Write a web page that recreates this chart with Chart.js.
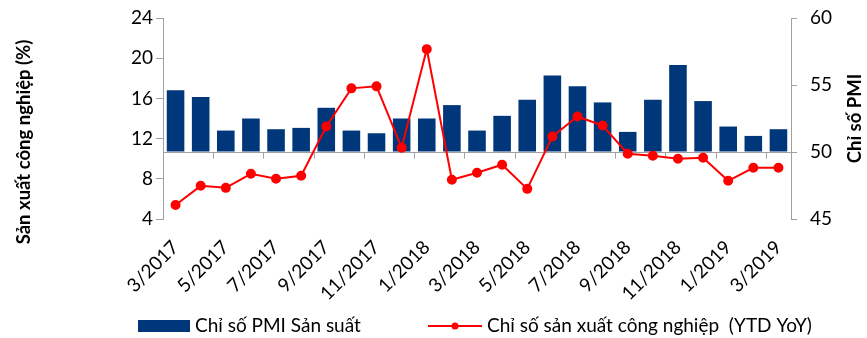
<!DOCTYPE html>
<html>
<head>
<meta charset="utf-8">
<script src="https://cdn.jsdelivr.net/npm/chart.js@4"></script>
<style>
  html, body { margin: 0; padding: 0; background: #fff; }
  #wrap { width: 867px; height: 338px; position: relative; }
</style>
</head>
<body>
<div id="wrap"><canvas id="c" width="867" height="338"></canvas></div>
<script>
// Months shown on the category axis
const months = ['3/2017','4/2017','5/2017','6/2017','7/2017','8/2017','9/2017','10/2017','11/2017','12/2017',
  '1/2018','2/2018','3/2018','4/2018','5/2018','6/2018','7/2018','8/2018','9/2018','10/2018','11/2018','12/2018',
  '1/2019','2/2019','3/2019'];

// Manufacturing PMI (right axis, bars rise from the 50 threshold)
const pmi = [54.6,54.1,51.6,52.5,51.7,51.8,53.3,51.6,51.4,52.5,52.5,53.5,51.6,52.7,53.9,55.7,54.9,53.7,51.5,53.9,56.5,53.8,51.9,51.2,51.7];

// Industrial production index, YTD YoY % (left axis)
const iip = [5.4,7.3,7.1,8.5,8.0,8.3,13.2,17.0,17.2,11.1,20.9,7.9,8.6,9.4,7.0,12.2,14.2,13.3,10.5,10.3,10.0,10.1,7.8,9.1,9.1];

const leftTicks = [4, 8, 12, 16, 20, 24];
const rightTicks = [45, 50, 55, 60];
const pmiBase = 50;

const seriesNames = ['Chỉ số PMI Sản suất', 'Chỉ số sản xuất công nghiệp  (YTD YoY)'];
const leftTitle = 'Sản xuất công nghiệp (%)';
const rightTitle = 'Chỉ số PMI';

const NAVY = '#00377A';
const RED = '#FF0000';
const AXIS = '#A0A0A0';
const FONT = 'Lato';
const FS = 19;

// Horizontal axis line at PMI = 50 with tick marks every two months
const baseAxis = {
  id: 'baseAxis',
  beforeDatasetsDraw(chart) {
    const {ctx, chartArea, scales} = chart;
    const y = Math.round(scales.y1.getPixelForValue(pmiBase)) + 0.5;
    ctx.save();
    ctx.strokeStyle = AXIS;
    ctx.lineWidth = 1;
    ctx.beginPath();
    ctx.moveTo(chartArea.left, y);
    ctx.lineTo(chartArea.right, y);
    const n = months.length;
    const step = (scales.x.getPixelForValue(1) - scales.x.getPixelForValue(0));
    for (let i = 2; i <= n; i += 2) {
      const bx = Math.round(scales.x.getPixelForValue(i) - step / 2) + 0.5;
      ctx.moveTo(bx, y);
      ctx.lineTo(bx, y + 6);
    }
    ctx.stroke();
    ctx.restore();
  }
};

// Axis titles and legend along the bottom
const decorations = {
  id: 'decorations',
  afterDraw(chart) {
    const {ctx, chartArea} = chart;
    ctx.save();
    ctx.fillStyle = '#000';
    ctx.font = 'bold 18.5px ' + FONT;
    ctx.textAlign = 'center';
    ctx.textBaseline = 'middle';
    ctx.translate(24, 142);
    ctx.rotate(-Math.PI / 2);
    ctx.fillText(leftTitle, 0, 0);
    ctx.restore();

    ctx.save();
    ctx.fillStyle = '#000';
    ctx.font = 'bold 18.5px ' + FONT;
    ctx.textAlign = 'center';
    ctx.textBaseline = 'middle';
    ctx.translate(855, (chartArea.top + chartArea.bottom) / 2);
    ctx.rotate(-Math.PI / 2);
    ctx.fillText(rightTitle, 0, 0);
    ctx.restore();

    // legend
    ctx.save();
    const ly = 326;
    ctx.fillStyle = NAVY;
    ctx.fillRect(138, 320, 52, 12);
    ctx.fillStyle = '#000';
    ctx.font = FS + 'px ' + FONT;
    ctx.textAlign = 'left';
    ctx.textBaseline = 'middle';
    ctx.fillText(seriesNames[0], 195, ly);

    ctx.strokeStyle = RED;
    ctx.lineWidth = 2;
    ctx.beginPath();
    ctx.moveTo(428, ly);
    ctx.lineTo(482, ly);
    ctx.stroke();
    ctx.fillStyle = RED;
    ctx.beginPath();
    ctx.arc(455, ly, 3.5, 0, Math.PI * 2);
    ctx.fill();
    ctx.fillStyle = '#000';
    ctx.fillText(seriesNames[1], 487, ly);
    ctx.restore();
  }
};

function fitVertical(width) {
  return function (scale) {
    scale.width = width;
    scale.paddingTop = 0;
    scale.paddingBottom = 0;
  };
}

Chart.defaults.font.family = FONT;
Chart.defaults.font.size = FS;
Chart.defaults.color = '#000';

new Chart(document.getElementById('c'), {
  data: {
    labels: months,
    datasets: [
      {
        type: 'line',
        label: seriesNames[1],
        data: iip,
        yAxisID: 'y',
        borderColor: RED,
        backgroundColor: RED,
        borderWidth: 2,
        pointRadius: 4,
        pointBackgroundColor: RED,
        pointBorderColor: RED,
        tension: 0,
        order: 0
      },
      {
        type: 'bar',
        label: seriesNames[0],
        data: pmi,
        yAxisID: 'y1',
        base: pmiBase,
        backgroundColor: NAVY,
        categoryPercentage: 1,
        barPercentage: 0.7,
        order: 1
      }
    ]
  },
  options: {
    responsive: false,
    animation: false,
    events: [],
    layout: { padding: { top: 18, left: 0, right: 0, bottom: 0 } },
    plugins: { legend: { display: false }, tooltip: { enabled: false } },
    scales: {
      x: {
        grid: { display: false, drawTicks: false },
        border: { display: false },
        ticks: {
          autoSkip: false,
          maxRotation: 45,
          minRotation: 45,
          padding: 17,
          callback: function (v, i) { return i % 2 === 0 ? months[i] : ''; }
        },
        afterFit(scale) { scale.height = 119; scale.paddingLeft = 0; scale.paddingRight = 0; }
      },
      y: {
        position: 'left',
        min: 4, max: 24,
        afterBuildTicks(scale) { scale.ticks = leftTicks.map(v => ({ value: v })); },
        grid: { drawOnChartArea: false, drawTicks: true, tickLength: 7, color: AXIS },
        border: { display: true, color: AXIS },
        ticks: { padding: 3 },
        afterFit: fitVertical(163)
      },
      y1: {
        position: 'right',
        min: 45, max: 60,
        afterBuildTicks(scale) { scale.ticks = rightTicks.map(v => ({ value: v })); },
        grid: { drawOnChartArea: false, drawTicks: true, tickLength: 6, color: AXIS },
        border: { display: true, color: AXIS },
        ticks: { padding: 13 },
        afterFit: fitVertical(76)
      }
    }
  },
  plugins: [baseAxis, decorations]
});
</script>
</body>
</html>
